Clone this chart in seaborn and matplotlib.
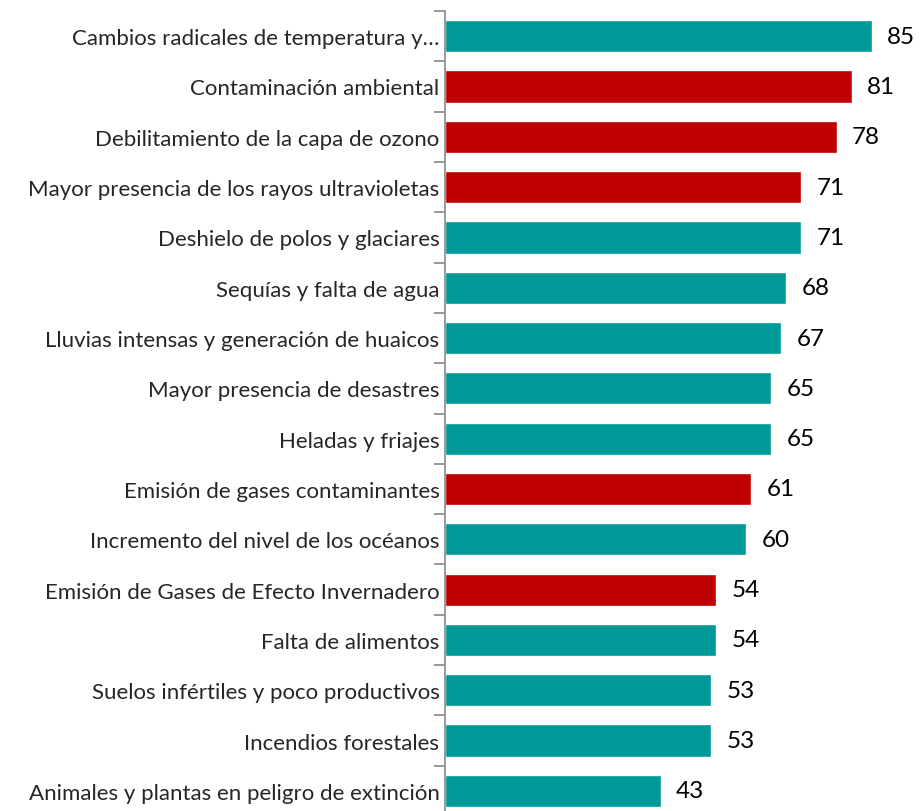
import numpy as np
import pandas as pd
import matplotlib.pyplot as plt
import seaborn as sns

categories = [
    "Cambios radicales de temperatura y…",
    "Contaminación ambiental",
    "Debilitamiento de la capa de ozono",
    "Mayor presencia de los rayos ultravioletas",
    "Deshielo de polos y glaciares",
    "Sequías y falta de agua",
    "Lluvias intensas y generación de huaicos",
    "Mayor presencia de desastres",
    "Heladas y friajes",
    "Emisión de gases contaminantes",
    "Incremento del nivel de los océanos",
    "Emisión de Gases de Efecto Invernadero",
    "Falta de alimentos",
    "Suelos infértiles y poco productivos",
    "Incendios forestales",
    "Animales y plantas en peligro de extinción",
]
values = [85, 81, 78, 71, 71, 68, 67, 65, 65, 61, 60, 54, 54, 53, 53, 43]
groups = ["efecto", "causa", "causa", "causa", "efecto", "efecto", "efecto", "efecto",
          "efecto", "causa", "efecto", "causa", "efecto", "efecto", "efecto", "efecto"]

df = pd.DataFrame({"categoria": categories, "valor": values, "grupo": groups})
palette = {"efecto": "#009999", "causa": "#C00000"}

sns.set_style("white")
plt.rcParams["font.family"] = ["Lato", "DejaVu Sans"]

fig = plt.figure(figsize=(9.22, 8.12), dpi=100)
ax = fig.add_axes([0.4826, -0.0062, 0.5174, 0.9914])

sns.barplot(data=df, y="categoria", x="valor", hue="grupo", palette=palette,
            orient="h", width=0.64, dodge=False, legend=False, saturation=1, ax=ax)

for i, v in enumerate(values):
    ax.text(v + 3, i, str(v), va="center", ha="left", fontsize=17.5, color="#000000")

ax.set_xlim(0, 95)
ax.set_ylim(len(categories) - 0.5, -0.5)
ax.set_xlabel("")
ax.set_ylabel("")
ax.set_xticks([])
for s in ["top", "right", "bottom"]:
    ax.spines[s].set_visible(False)
ax.spines["left"].set_color("#888888")
ax.spines["left"].set_linewidth(1.2)
ax.set_yticks(np.arange(len(categories) + 1) - 0.5, minor=True)
ax.tick_params(axis="y", which="minor", length=8, width=1.2, color="#888888", left=True)
ax.tick_params(axis="y", which="major", length=0, pad=4, labelsize=16)

fig.savefig("out.png", dpi=100)
